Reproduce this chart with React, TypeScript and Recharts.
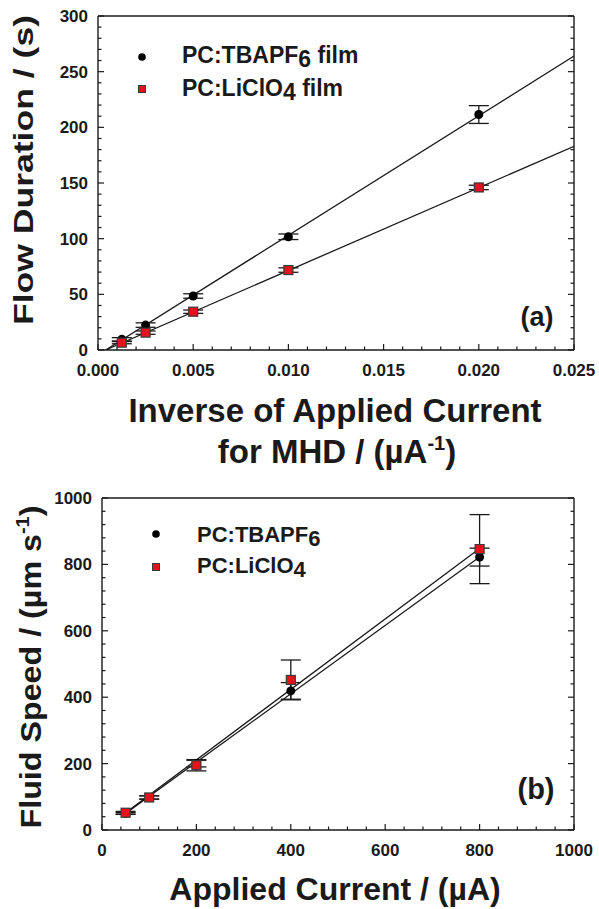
import React from 'react'
import { ComposedChart, Scatter, Line, XAxis, YAxis, ErrorBar } from 'recharts'

const ink = '#1a1a1a'
const font = '"Liberation Sans", Arial, sans-serif'

// (a) flow duration vs inverse of applied current
const invCurrent = [0.00125, 0.0025, 0.005, 0.01, 0.02]
const durTBAPF6 = [9.6, 22.4, 48.5, 101.7, 211.5]
const durTBAPF6Err = [1.5, 2, 2, 2.5, 8]
const durLiClO4 = [6.6, 15.6, 34.4, 71.8, 146]
const durLiClO4Err = [1, 1.5, 1.5, 2, 2]
const fitInvX = [0.0004, 0.025]
const fitDurTBAPF6 = [0, 264]
const fitDurLiClO4 = [0, 183]
const invMajor = [0, 0.005, 0.01, 0.015, 0.02, 0.025]
const durMajor = [0, 50, 100, 150, 200, 250, 300]

// (b) fluid speed vs applied current
const current = [50, 100, 200, 400, 800]
const speedTBAPF6 = [50, 98, 200, 419, 822]
const speedTBAPF6Err = [3, 5, 10, 25, 27]
const speedLiClO4 = [52, 98, 195, 452, 846]
const speedLiClO4Err = [4, 5, 17, 60, 104]
const fitCurX = [50, 800]
const fitSpeedTBAPF6 = [50, 822]
const fitSpeedLiClO4 = [52, 848]
const curMajor = [0, 200, 400, 600, 800, 1000]
const speedMajor = [0, 200, 400, 600, 800, 1000]

const rows = (xs: number[], ys: number[], es?: number[]) =>
  xs.map((x, i) => ({ x, y: ys[i], e: es ? es[i] : 0 }))

// majors plus 4 minor ticks between each pair
const subdivide = (major: number[], n: number) => {
  const out: number[] = []
  for (let i = 0; i < major.length - 1; i++)
    for (let k = 0; k < n; k++) out.push(major[i] + ((major[i + 1] - major[i]) * k) / n)
  out.push(major[major.length - 1])
  return out
}

const isMajor = (v: number, majors: number[]) => majors.some((m) => Math.abs(m - v) < 1e-9)

type Side = 'bottom' | 'top' | 'left' | 'right'

const makeTick = (side: Side, majors: number[], fmt?: (v: number) => string) => (p: any) => {
  const { x, y, payload } = p
  const major = isMajor(payload.value, majors)
  const len = major ? 6 : 3.5
  const dx = side === 'left' ? len : side === 'right' ? -len : 0
  const dy = side === 'bottom' ? -len : side === 'top' ? len : 0
  let label = null
  if (fmt && major) {
    label =
      side === 'bottom' ? (
        <text x={x} y={y + 26} textAnchor="middle" fontSize={17} fontWeight="bold" fontFamily={font} fill={ink}>
          {fmt(payload.value)}
        </text>
      ) : (
        <text x={x - 10} y={y + 6} textAnchor="end" fontSize={17} fontWeight="bold" fontFamily={font} fill={ink}>
          {fmt(payload.value)}
        </text>
      )
  }
  return (
    <g>
      <line x1={x} y1={y} x2={x + dx} y2={y + dy} stroke={ink} strokeWidth={1.2} />
      {label}
    </g>
  )
}

const DotShape = (p: any) => <circle cx={p.cx} cy={p.cy} r={4.5} fill="#000" />
const SquareShape = (p: any) => (
  <rect x={p.cx - 4.5} y={p.cy - 4.5} width={9} height={9} fill="#e3131b" stroke="#3a3a3a" strokeWidth={1.2} />
)

type Pt = { x: number; y: number; e: number }
type PanelProps = {
  height: number
  margin: { top: number; right: number; bottom: number; left: number }
  xMajor: number[]
  yMajor: number[]
  xFmt: (v: number) => string
  yFmt: (v: number) => string
  black: Pt[]
  red: Pt[]
  fitBlack: Pt[]
  fitRed: Pt[]
}

const axisLine = { stroke: ink, strokeWidth: 1.4 }

// axes are 1px thick so they still render; margins carry the real spacing
const Panel = ({ height, margin, xMajor, yMajor, xFmt, yFmt, black, red, fitBlack, fitRed }: PanelProps) => {
  const xDomain = [xMajor[0], xMajor[xMajor.length - 1]]
  const yDomain = [yMajor[0], yMajor[yMajor.length - 1]]
  const xTicks = subdivide(xMajor, 5)
  const yTicks = subdivide(yMajor, 5)
  const common = { type: 'number' as const, allowDataOverflow: true, interval: 0, tickSize: 0, tickMargin: 0, axisLine, tickLine: false }
  return (
    <ComposedChart width={599} height={height} margin={margin}>
      <XAxis {...common} dataKey="x" domain={xDomain} ticks={xTicks} height={1} tick={makeTick('bottom', xMajor, xFmt)} />
      <XAxis {...common} xAxisId="top" orientation="top" mirror domain={xDomain} ticks={xTicks} height={1} tick={makeTick('top', xMajor)} />
      <YAxis {...common} dataKey="y" domain={yDomain} ticks={yTicks} width={1} tick={makeTick('left', yMajor, yFmt)} />
      <YAxis {...common} yAxisId="right" orientation="right" mirror domain={yDomain} ticks={yTicks} width={1} tick={makeTick('right', yMajor)} />
      <Line data={fitBlack} dataKey="y" stroke={ink} strokeWidth={1.3} dot={false} isAnimationActive={false} />
      <Line data={fitRed} dataKey="y" stroke={ink} strokeWidth={1.3} dot={false} isAnimationActive={false} />
      <Scatter data={black} dataKey="y" shape={DotShape} isAnimationActive={false}>
        <ErrorBar dataKey="e" direction="y" width={10} stroke={ink} strokeWidth={1.3} />
      </Scatter>
      <Scatter data={red} dataKey="y" shape={SquareShape} isAnimationActive={false}>
        <ErrorBar dataKey="e" direction="y" width={10} stroke={ink} strokeWidth={1.3} />
      </Scatter>
    </ComposedChart>
  )
}

const txt = { fontFamily: font, fontWeight: 'bold' as const, fill: ink }

const App = () => (
  <div style={{ position: 'absolute', left: 0, top: 0, width: 599, height: 909, background: '#fff' }}>
    <div style={{ position: 'absolute', left: 0, top: 0 }}>
      <Panel
        height={460}
        margin={{ top: 16, right: 25, bottom: 109, left: 97 }}
        xMajor={invMajor}
        yMajor={durMajor}
        xFmt={(v) => v.toFixed(3)}
        yFmt={(v) => String(Math.round(v))}
        black={rows(invCurrent, durTBAPF6, durTBAPF6Err)}
        red={rows(invCurrent, durLiClO4, durLiClO4Err)}
        fitBlack={rows(fitInvX, fitDurTBAPF6)}
        fitRed={rows(fitInvX, fitDurLiClO4)}
      />
    </div>
    <div style={{ position: 'absolute', left: 0, top: 460 }}>
      <Panel
        height={449}
        margin={{ top: 38, right: 25, bottom: 78, left: 101 }}
        xMajor={curMajor}
        yMajor={speedMajor}
        xFmt={(v) => String(Math.round(v))}
        yFmt={(v) => String(Math.round(v))}
        black={rows(current, speedTBAPF6, speedTBAPF6Err)}
        red={rows(current, speedLiClO4, speedLiClO4Err)}
        fitBlack={rows(fitCurX, fitSpeedTBAPF6)}
        fitRed={rows(fitCurX, fitSpeedLiClO4)}
      />
    </div>
    <svg width={599} height={909} style={{ position: 'absolute', left: 0, top: 0, pointerEvents: 'none' }}>
      {/* axis titles */}
      <text {...txt} fontSize={27} textAnchor="middle" textLength={310} lengthAdjust="spacingAndGlyphs" transform="translate(33,170) rotate(-90)">
        Flow Duration / (s)
      </text>
      <text {...txt} fontSize={33} textAnchor="middle" x={335} y={422}>
        Inverse of Applied Current
      </text>
      <text {...txt} fontSize={33} textAnchor="middle" x={337} y={463}>
        for MHD / (µA<tspan fontSize={20} dy={-13}>-1</tspan><tspan dy={13}>)</tspan>
      </text>
      <text {...txt} fontSize={29} textAnchor="middle" textLength={323} lengthAdjust="spacingAndGlyphs" transform="translate(41,667) rotate(-90)">
        Fluid Speed / (µm s<tspan fontSize={18} dy={-12}>-1</tspan><tspan dy={12}>)</tspan>
      </text>
      <text {...txt} fontSize={32} textAnchor="middle" x={335} y={900}>
        Applied Current / (µA)
      </text>

      {/* panel letters */}
      <text {...txt} fontSize={27} textAnchor="middle" x={537} y={326}>(a)</text>
      <text {...txt} fontSize={29} textAnchor="middle" x={536} y={799}>(b)</text>

      {/* legend (a) */}
      <circle cx={142} cy={57} r={3.8} fill="#000" />
      <rect x={138.5} y={85.5} width={7} height={7} fill="#e3131b" stroke="#3a3a3a" strokeWidth={1} />
      <text {...txt} fontSize={23} x={182} y={63}>
        PC:TBAPF<tspan dy={4}>6</tspan><tspan dy={-4}> film</tspan>
      </text>
      <text {...txt} fontSize={23} x={182} y={96}>
        PC:LiClO<tspan dy={4}>4</tspan><tspan dy={-4}> film</tspan>
      </text>

      {/* legend (b) */}
      <circle cx={156} cy={534} r={3.8} fill="#000" />
      <rect x={152.5} y={563.5} width={7} height={7} fill="#e3131b" stroke="#3a3a3a" strokeWidth={1} />
      <text {...txt} fontSize={22} x={197} y={542}>
        PC:TBAPF<tspan dy={4}>6</tspan>
      </text>
      <text {...txt} fontSize={22} x={197} y={573}>
        PC:LiClO<tspan dy={4}>4</tspan>
      </text>
    </svg>
  </div>
)

export default App
